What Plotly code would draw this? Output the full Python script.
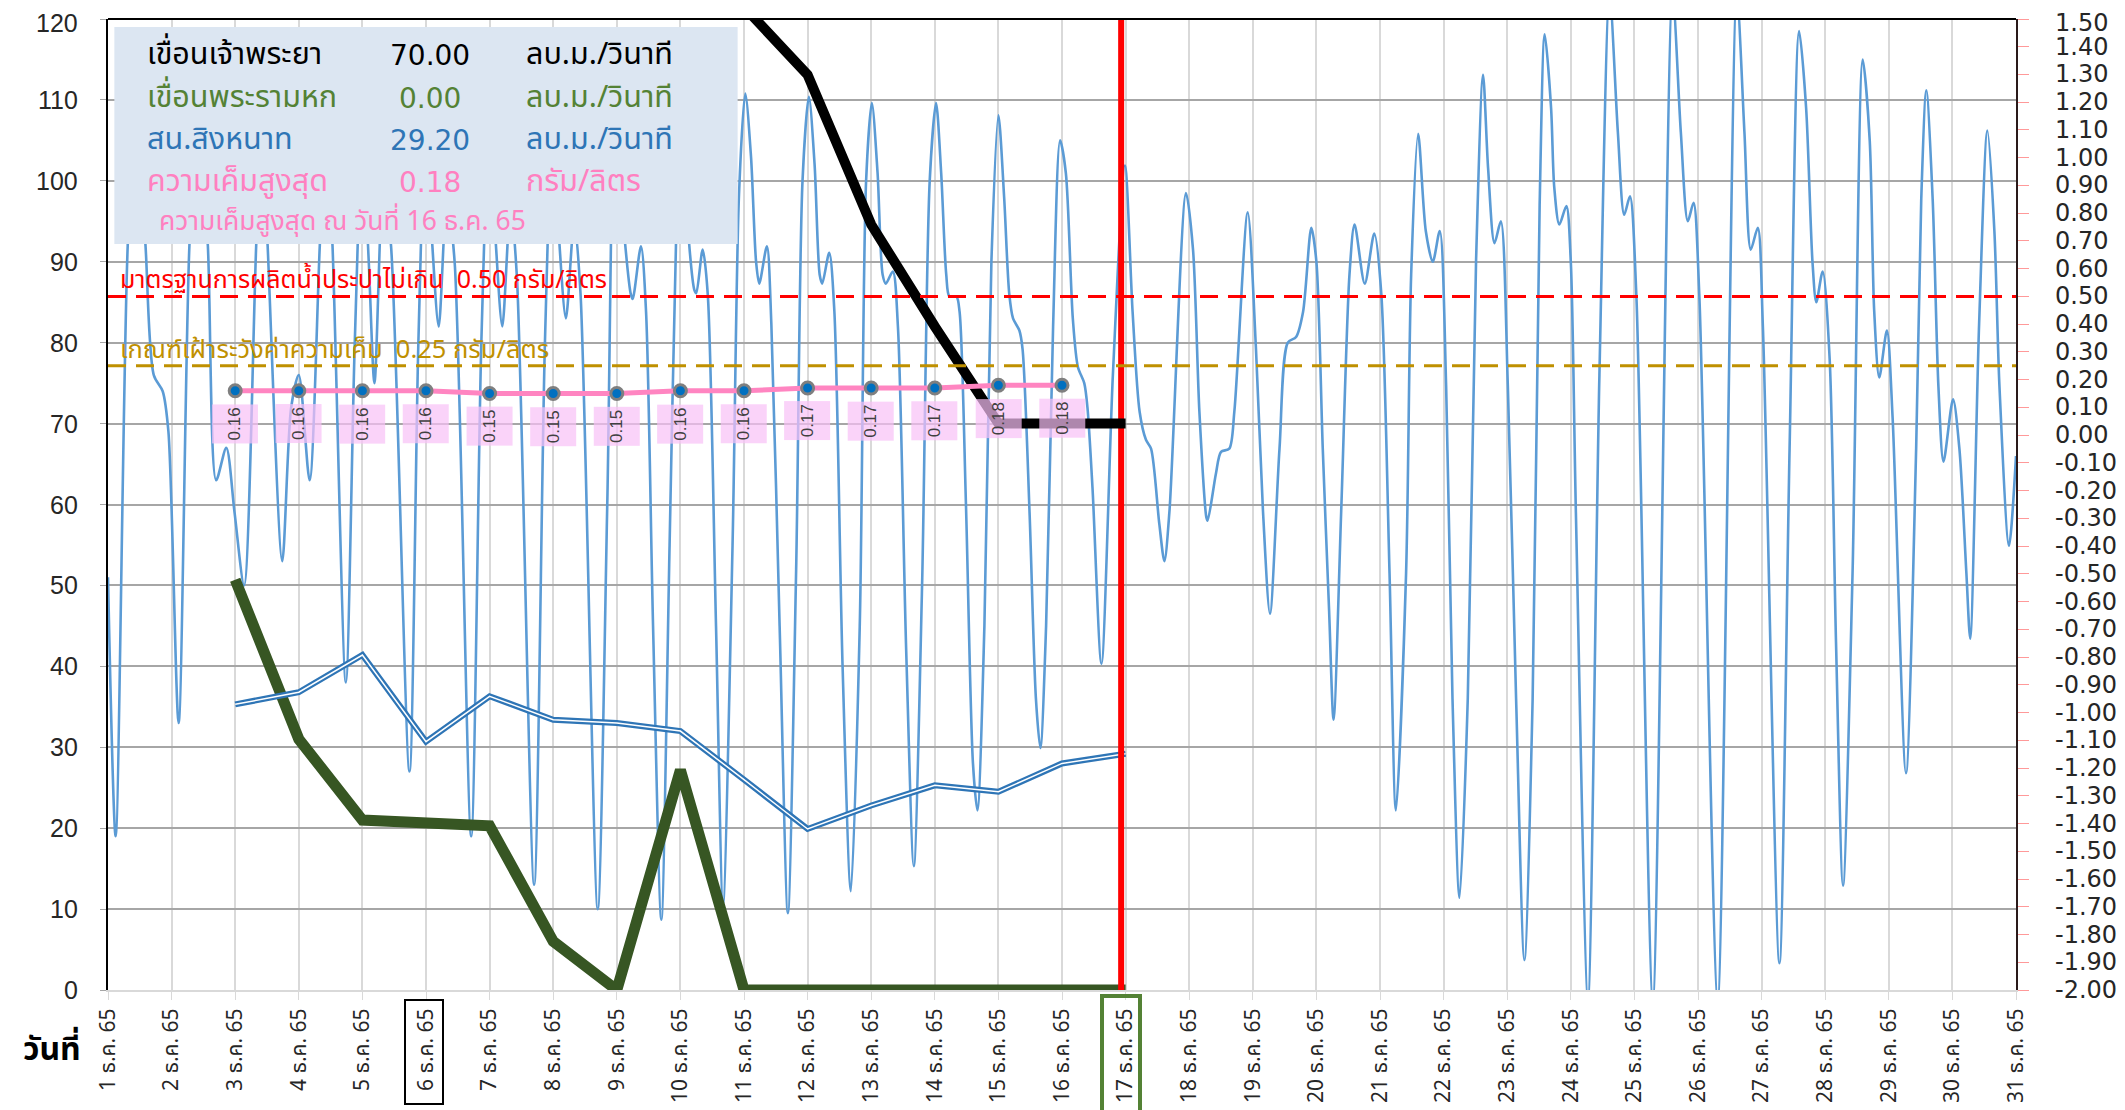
import plotly.graph_objects as go

THAI = "Tahoma, 'Noto Sans Thai', 'Noto Sans', 'DejaVu Sans', sans-serif"

days = list(range(1, 32))
day_labels = [f"{d} ธ.ค. 65" for d in days]
left_vals = list(range(0, 121, 10))
right_vals = [(k - 20) / 10 for k in range(36)]
right_labels = [f"{v:.2f}" for v in right_vals]

# tide level trace (left-axis units)
tide_day = [
    1.00, 1.12, 1.31, 1.45, 1.59, 1.72, 1.86, 1.95, 2.11, 2.28, 2.42, 2.57, 2.70, 2.86, 2.99,
    3.14, 3.33, 3.42, 3.51, 3.74, 3.88, 4.00, 4.17, 4.33, 4.43, 4.53, 4.74, 4.88, 5.00, 5.10,
    5.19, 5.33, 5.45, 5.74, 5.88, 6.00, 6.10, 6.20, 6.33, 6.45, 6.71, 6.87, 7.00, 7.10, 7.20,
    7.33, 7.43, 7.70, 7.87, 8.00, 8.10, 8.20, 8.33, 8.43, 8.70, 8.85, 8.97, 9.10, 9.22, 9.25,
    9.38, 9.46, 9.57, 9.70, 9.83, 9.93, 10.02, 10.14, 10.22, 10.25, 10.35, 10.43, 10.56, 10.67,
    10.82, 10.92, 11.02, 11.11, 11.19, 11.24, 11.36, 11.43, 11.56, 11.69, 11.82, 11.92, 12.02,
    12.11, 12.19, 12.23, 12.34, 12.42, 12.55, 12.68, 12.82, 12.92, 13.01, 13.10, 13.18, 13.23,
    13.34, 13.42, 13.55, 13.67, 13.80, 13.92, 14.02, 14.10, 14.18, 14.23, 14.34, 14.39, 14.49,
    14.60, 14.67, 14.78, 14.89, 15.00, 15.09, 15.17, 15.23, 15.33, 15.38, 15.49, 15.59, 15.66,
    15.75, 15.86, 15.97, 16.06, 16.17, 16.25, 16.35, 16.40, 16.48, 16.62, 16.80, 16.99, 17.11,
    17.22, 17.32, 17.40, 17.53, 17.61, 17.69, 17.95, 18.06, 18.16, 18.27, 18.29, 18.42, 18.50,
    18.63, 18.71, 18.92, 19.05, 19.16, 19.27, 19.42, 19.55, 19.68, 19.79, 19.92, 20.00, 20.10,
    20.20, 20.27, 20.39, 20.52, 20.60, 20.76, 20.91, 21.02, 21.15, 21.25, 21.41, 21.49, 21.60,
    21.72, 21.83, 21.94, 22.04, 22.14, 22.25, 22.38, 22.51, 22.62, 22.70, 22.80, 22.90, 23.01,
    23.14, 23.27, 23.40, 23.51, 23.59, 23.69, 23.74, 23.82, 23.93, 24.00, 24.08, 24.27, 24.45,
    24.61, 24.74, 24.84, 24.93, 25.03, 25.29, 25.60, 25.73, 25.84, 25.93, 26.02, 26.31, 26.61,
    26.73, 26.83, 26.94, 27.02, 27.28, 27.44, 27.59, 27.70, 27.80, 27.86, 27.96, 28.07, 28.17,
    28.28, 28.43, 28.59, 28.70, 28.77, 28.85, 28.97, 29.06, 29.27, 29.43, 29.51, 29.59, 29.69,
    29.78, 29.86, 30.01, 30.11, 30.22, 30.28, 30.42, 30.55, 30.66, 30.74, 30.89, 31.00,
]
tide_val = [
    51, 19, 92, 110, 92, 76, 74, 69, 33, 92, 110, 92, 63, 67, 59,
    50, 92, 108, 92, 53, 72, 76, 63, 92, 108, 92, 38, 80, 105, 90,
    75, 100, 92, 27, 80, 108, 92, 82, 98, 90, 19, 80, 108, 92, 82,
    97, 88, 13, 80, 109, 92, 83, 95, 86, 10, 60, 110, 95, 86, 85.4,
    91.9, 83.8, 45, 8.7, 55, 92, 110, 92, 86.5, 86.1, 91.5, 86, 45, 10.6,
    55, 98, 110.8, 103, 90, 87.3, 91.9, 82.3, 45, 9.5, 52, 100, 110.4,
    102, 88.4, 87.3, 91.1, 84, 40, 12.2, 45, 100, 109.6, 101, 88.4, 87.3,
    88.8, 82, 42, 15.3, 50, 100, 109.6, 101, 88.4, 85.7, 85.7, 83.8, 60,
    28, 22.2, 45, 90, 108.1, 98, 86.1, 83, 81.5, 79.2, 59, 36, 29.9,
    45, 82, 105, 101, 83, 77, 75, 72, 62, 40.3, 76, 101.9, 83.8,
    71.5, 68, 66.9, 57.6, 53, 59.2, 98.5, 91.5, 71.5, 58.4, 58, 63.8, 66.5,
    66.9, 71.5, 96.1, 79.2, 59.2, 46.5, 66.9, 80, 80.7, 83.8, 94.2, 90, 66.9,
    46.8, 33.4, 59.2, 88.4, 94.6, 87.3, 93.5, 86.1, 51.5, 22.2, 51.5, 88.4, 105.8,
    93.8, 90, 93.8, 74.6, 36, 11.4, 36, 90, 113.1, 101.5, 92.3, 95, 74.6,
    36, 3.7, 36, 97, 118.1, 109, 99.2, 94.6, 96.9, 90, 59, -1, 76,
    123, 106, 95.8, 98.1, 86, -1, 123, 106, 95, 97.3, 86, -1, 123,
    106, 91.5, 94.2, 82, 3.3, 66.9, 118.5, 109, 90, 85, 88.8, 78, 43,
    12.9, 51.5, 115, 105, 84, 75.7, 81.5, 70.7, 26.8, 66.9, 97.7, 111.2, 97.7,
    74.6, 65.3, 73, 66.9, 51.5, 43.4, 82.3, 106.2, 93.8, 74.6, 54.9, 66,
]

# เขื่อนเจ้าพระยา (ลบ.ม./วินาที)
cp_day = [11, 12, 13, 14, 15, 16, 17]
cp_val = [121.5, 113.1, 94.6, 82.0, 70.0, 70.0, 70.0]

# เขื่อนพระรามหก (ลบ.ม./วินาที)
rama_day = list(range(3, 18))
rama_val = [50.7, 31.0, 21.0, 20.8, 20.3, 6.0, 0, 27.2, 0, 0, 0, 0, 0, 0, 0]

# สน.สิงหนาท (ลบ.ม./วินาที)
sing_day = list(range(3, 18))
sing_val = [35.3, 36.8, 41.4, 30.7, 36.3, 33.4, 33.0, 32.0, 26.0, 19.9, 22.8, 25.3, 24.5, 28.0, 29.2]

# ความเค็ม (กรัม/ลิตร), right axis
sal_day = list(range(3, 17))
sal_val = [0.16, 0.16, 0.16, 0.16, 0.15, 0.15, 0.15, 0.16, 0.16, 0.17, 0.17, 0.17, 0.18, 0.18]

std_limit = 0.50
watch_limit = 0.25
today = 16.93

# page body adds an 8px offset; plot area on screen is x 108..2016, y 19..990
PX0, PX1, PY0, PY1 = 108, 2016, 19, 990


def px(x):
    return (x - PX0) / (PX1 - PX0)


def py(y):
    return (PY1 - y) / (PY1 - PY0)


fig = go.Figure()

fig.add_trace(go.Scatter(x=tide_day, y=tide_val, mode="lines",
                         line=dict(color="#5B9BD5", width=2.6, shape="spline", smoothing=0.8),
                         hoverinfo="skip"))
fig.add_trace(go.Scatter(x=[1, 31], y=[std_limit, std_limit], yaxis="y2", mode="lines",
                         line=dict(color="#FF0000", width=3, dash="18px,10px")))
fig.add_trace(go.Scatter(x=[1, 31], y=[watch_limit, watch_limit], yaxis="y2", mode="lines",
                         line=dict(color="#BF9000", width=3, dash="18px,10px")))
fig.add_trace(go.Scatter(x=rama_day, y=rama_val, mode="lines",
                         line=dict(color="#375623", width=11)))
fig.add_trace(go.Scatter(x=sing_day, y=sing_val, mode="lines",
                         line=dict(color="#2E75B6", width=6)))
fig.add_trace(go.Scatter(x=sing_day, y=sing_val, mode="lines",
                         line=dict(color="white", width=1.5)))
fig.add_trace(go.Scatter(x=[today, today], y=[0, 120], mode="lines",
                         line=dict(color="#FF0000", width=6)))
fig.add_trace(go.Scatter(x=cp_day, y=cp_val, mode="lines",
                         line=dict(color="black", width=10)))
fig.add_trace(go.Scatter(x=sal_day, y=sal_val, yaxis="y2", mode="lines+markers",
                         line=dict(color="#FF85C1", width=5),
                         marker=dict(size=12, color="#0070C0", line=dict(color="#7F7F7F", width=3))))

ann = []
# axis tick labels (the top one nudged down so it is not clipped)
for v in left_vals:
    ann.append(dict(x=px(79), y=v, xref="paper", yref="y", text=str(v), showarrow=False,
                    xanchor="right", yanchor="middle", borderpad=0,
                    yshift=-4 if v == 120 else 0,
                    font=dict(family="Liberation Sans", size=25, color="#262626")))
for v, t in zip(right_vals, right_labels):
    ann.append(dict(x=px(2054), y=v, xref="paper", yref="y2", text=t, showarrow=False,
                    xanchor="left", yanchor="middle", borderpad=0,
                    yshift=-4 if v == 1.5 else 0,
                    font=dict(family="DejaVu Sans", size=24, color="#262626")))

for d, v in zip(sal_day, sal_val):
    ann.append(dict(x=d, y=v, xref="x", yref="y2", text=f"{v:.2f}", textangle=-90,
                    showarrow=False, yshift=-33, width=36, height=43,
                    bgcolor="rgba(248,192,246,0.7)",
                    font=dict(family="Liberation Sans", size=17, color="#404040")))

rows = [
    ("เขื่อนเจ้าพระยา", "70.00", "ลบ.ม./วินาที", "#000000", 115.5),
    ("เขื่อนพระรามหก", "0.00", "ลบ.ม./วินาที", "#548235", 110.2),
    ("สน.สิงหนาท", "29.20", "ลบ.ม./วินาที", "#2E75B6", 105.0),
    ("ความเค็มสูงสุด", "0.18", "กรัม/ลิตร", "#FF80C0", 99.8),
]
for label, val, unit, col, yy in rows:
    ft = dict(family=THAI, size=30.5, color=col)
    fn = dict(family="DejaVu Sans", size=28, color=col)
    ann.append(dict(x=1.59, y=yy, xref="x", yref="y", text=label, showarrow=False,
                    xanchor="left", yanchor="middle", borderpad=0, font=ft))
    ann.append(dict(x=6.07, y=yy, xref="x", yref="y", text=val, showarrow=False,
                    xanchor="center", yanchor="middle", borderpad=0, font=fn))
    ann.append(dict(x=7.56, y=yy, xref="x", yref="y", text=unit, showarrow=False,
                    xanchor="left", yanchor="middle", borderpad=0, font=ft))
ann.append(dict(x=1.79, y=94.9, xref="x", yref="y", text="ความเค็มสูงสุด ณ วันที่ 16 ธ.ค. 65",
                showarrow=False, xanchor="left", yanchor="middle", borderpad=0,
                font=dict(family=THAI, size=26.5, color="#FF80C0")))
ann.append(dict(x=1.15, y=87.7, xref="x", yref="y",
                text="มาตรฐานการผลิตน้ำประปาไม่เกิน  0.50 กรัม/ลิตร",
                showarrow=False, xanchor="left", yanchor="middle",
                font=dict(family=THAI, size=25, color="#FF0000")))
ann.append(dict(x=1.15, y=79.1, xref="x", yref="y",
                text="เกณฑ์เฝ้าระวังค่าความเค็ม  0.25 กรัม/ลิตร",
                showarrow=False, xanchor="left", yanchor="middle",
                font=dict(family=THAI, size=25.5, color="#BF9000")))
ann.append(dict(x=px(52), y=py(1050), xref="paper", yref="paper",
                text="<b>วันที่</b>", showarrow=False, xanchor="center", yanchor="middle",
                font=dict(family=THAI, size=32, color="black")))

shapes = [
    dict(type="rect", xref="x", yref="y", x0=1.1, x1=10.9, y0=92.2, y1=119.0,
         fillcolor="#DCE6F2", line=dict(width=0), layer="above"),
    dict(type="line", xref="paper", yref="paper", x0=0, x1=1, y0=1, y1=1,
         line=dict(color="black", width=2)),
    dict(type="rect", xref="paper", yref="paper",
         x0=px(405), x1=px(443), y0=py(1000), y1=py(1104),
         line=dict(color="black", width=2)),
    dict(type="rect", xref="paper", yref="paper",
         x0=px(1102), x1=px(1140), y0=py(996), y1=py(1112),
         line=dict(color="#548235", width=4)),
]

fig.update_layout(
    width=2117, height=1102,
    margin=dict(l=100, r=109, t=11, b=120),
    plot_bgcolor="white", paper_bgcolor="white",
    showlegend=False,
    annotations=ann,
    shapes=shapes,
    xaxis=dict(range=[1, 31], tickvals=days, ticktext=day_labels, tickangle=-90,
               automargin=False,
               showgrid=True, gridcolor="#D9D9D9", gridwidth=1.5, zeroline=False,
               showline=True, linecolor="#D9D9D9", linewidth=2,
               ticks="outside", ticklen=8, tickcolor="#D9D9D9",
               tickfont=dict(family=THAI, size=21, color="#262626")),
    yaxis=dict(range=[0, 120], dtick=10, showgrid=True, gridcolor="#A6A6A6", gridwidth=2,
               automargin=False, showticklabels=False,
               zeroline=False, showline=True, linecolor="black", linewidth=2,
               ticks="outside", ticklen=6, tickcolor="#A6A6A6"),
    yaxis2=dict(range=[-2, 1.5], tickvals=right_vals, overlaying="y", side="right",
                automargin=False, showticklabels=False,
                showgrid=False, zeroline=False, showline=True, linecolor="#2a1a1a", linewidth=2,
                ticks="outside", ticklen=11, tickcolor="#FF9999"),
)

fig.write_html("out.html")
